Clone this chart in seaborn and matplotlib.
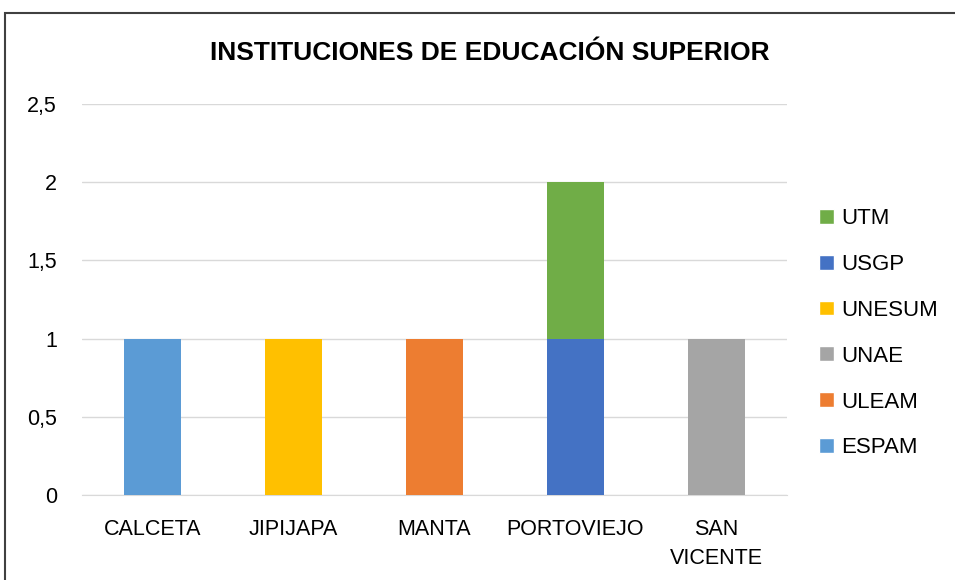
import matplotlib
matplotlib.use("Agg")
import matplotlib.pyplot as plt
import numpy as np
import seaborn as sns
from matplotlib.patches import Patch, Rectangle

ciudades = ["CALCETA", "JIPIJAPA", "MANTA", "PORTOVIEJO", "SAN\nVICENTE"]
espam = [1, 0, 0, 0, 0]
uleam = [0, 0, 1, 0, 0]
unae = [0, 0, 0, 0, 1]
unesum = [0, 1, 0, 0, 0]
usgp = [0, 0, 0, 1, 0]
utm = [0, 0, 0, 1, 0]

series = [
    ("ESPAM", espam, "#5B9BD5"),
    ("ULEAM", uleam, "#ED7D31"),
    ("UNAE", unae, "#A5A5A5"),
    ("UNESUM", unesum, "#FFC000"),
    ("USGP", usgp, "#4472C4"),
    ("UTM", utm, "#70AD47"),
]

sns.set_style("white")
plt.rcParams["font.family"] = ["Liberation Sans Narrow", "Liberation Sans", "DejaVu Sans"]
plt.rcParams["text.color"] = "black"

fig = plt.figure(figsize=(9.55, 5.8), dpi=100)
ax = fig.add_axes([0.0859, 0.1466, 0.824 - 0.0859, 0.8207 - 0.1466])

bottom = np.zeros(len(ciudades))
for name, vals, color in series:
    sns.barplot(x=ciudades, y=vals, bottom=bottom, color=color, width=0.4,
                ax=ax, saturation=1, linewidth=0, zorder=3)
    bottom += np.array(vals)

ax.set_ylim(0, 2.5)
ax.set_yticks([0, 0.5, 1, 1.5, 2, 2.5])
ax.set_yticklabels(["0", "0,5", "1", "1,5", "2", "2,5"])
ax.yaxis.grid(True, color="#D9D9D9", linewidth=1, zorder=0)
ax.set_axisbelow(True)
for s in ["top", "right", "left"]:
    ax.spines[s].set_visible(False)
ax.spines["bottom"].set_color("#D9D9D9")
ax.tick_params(axis="both", length=0, labelsize=15.5, colors="black")
ax.tick_params(axis="x", pad=17)
ax.tick_params(axis="y", pad=18)
for lbl in ax.get_xticklabels():
    lbl.set_linespacing(1.5)
ax.set_xlabel("")
ax.set_ylabel("")

fig.text(0.513, 0.908, "INSTITUCIONES DE EDUCACIÓN SUPERIOR", ha="center", va="center",
         fontsize=19, fontweight="bold", color="black")

handles = [Patch(facecolor=c, label=n) for n, v, c in reversed(series)]
fig.legend(handles=handles, loc="center left", bbox_to_anchor=(0.837, 0.4254),
           frameon=False, fontsize=16, handlelength=0.65, handleheight=0.65,
           handletextpad=0.35, labelspacing=1.12)

fig.patches.append(Rectangle((5 / 955, -0.1), 1.2, (580 - 13) / 580 + 0.1,
                             transform=fig.transFigure, fill=False,
                             edgecolor="#404040", linewidth=1.5))

fig.savefig("out.png", dpi=100)
